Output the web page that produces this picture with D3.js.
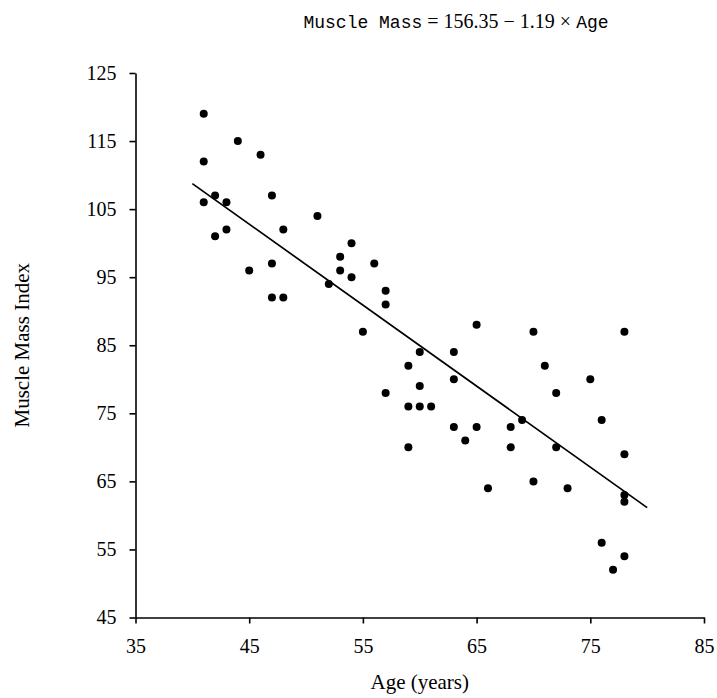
<!DOCTYPE html>
<html>
<head>
<meta charset="utf-8">
<script src="https://cdn.jsdelivr.net/npm/d3@7"></script>
<style>
  html, body { margin: 0; padding: 0; background: #fff; }
  svg { display: block; }
</style>
</head>
<body>
<script>
// ---- data ----
const ages = [41,44,46,41,42,47,41,43,51,42,43,48,54,53,56,53,54,52,57,57,45,47,47,48,55,65,60,63,59,60,63,57,70,78,71,75,72,59,60,61,69,76,63,65,68,64,59,68,72,78,66,70,73,78,78,76,78,77];
const muscleMass = [119,115,113,112,107,107,106,106,104,101,102,102,100,98,97,96,95,94,93,91,96,97,92,92,87,88,84,84,82,79,80,78,87,87,82,80,78,76,76,76,74,74,73,73,73,71,70,70,70,69,64,65,64,63,62,56,54,52];
const xTicks = [35,45,55,65,75,85];
const yTicks = [45,55,65,75,85,95,105,115,125];
const intercept = 156.35;
const slope = -1.19;
const fitRange = [40, 80];

const W = 717, H = 698;
const svg = d3.select("body").append("svg").attr("width", W).attr("height", H);

const x = d3.scaleLinear().domain([35, 85]).range([135.5, 704]);
const y = d3.scaleLinear().domain([45, 125]).range([617.5, 73]);

const serif = "'Liberation Serif', 'Times New Roman', serif";
const mono = "'Liberation Mono', 'DejaVu Sans Mono', monospace";

// axes
const xAxis = d3.axisBottom(x).tickValues(xTicks).tickSize(6).tickPadding(15).tickSizeOuter(0);
const yAxis = d3.axisLeft(y).tickValues(yTicks).tickSize(6).tickPadding(13).tickSizeOuter(0);

const gx = svg.append("g").attr("transform", `translate(0,${y(45)})`).call(xAxis);
const gy = svg.append("g").attr("transform", `translate(${x(35)},0)`).call(yAxis);
[gx, gy].forEach(g => {
  g.select(".domain").attr("stroke", "#000").attr("stroke-width", 1.6);
  g.selectAll(".tick line").attr("stroke", "#000").attr("stroke-width", 1.6);
  g.selectAll(".tick text").attr("fill", "#000").style("font-family", serif).style("font-size", "20px");
});

// points
svg.append("g").selectAll("circle")
  .data(ages.map((a, i) => [a, muscleMass[i]]))
  .join("circle")
  .attr("cx", d => x(d[0]))
  .attr("cy", d => y(d[1]))
  .attr("r", 4)
  .attr("fill", "#000");

// regression line
svg.append("line")
  .attr("x1", x(fitRange[0])).attr("y1", y(intercept + slope * fitRange[0]))
  .attr("x2", x(fitRange[1])).attr("y2", y(intercept + slope * fitRange[1]))
  .attr("stroke", "#000").attr("stroke-width", 1.7);

// title
const title = svg.append("text")
  .attr("x", 456).attr("y", 28)
  .attr("text-anchor", "middle")
  .style("font-size", "18px");
title.append("tspan").style("font-family", mono).text("Muscle Mass");
title.append("tspan").style("font-family", serif).style("font-size", "20px").text(" = 156.35 \u2212 1.19 \u00D7 ");
title.append("tspan").style("font-family", mono).text("Age");

// axis labels
svg.append("text")
  .attr("x", x(60)).attr("y", 689)
  .attr("text-anchor", "middle")
  .style("font-family", serif).style("font-size", "21px")
  .text("Age (years)");

svg.append("text")
  .attr("transform", `translate(29,${(y(45) + y(125)) / 2}) rotate(-90)`)
  .attr("text-anchor", "middle")
  .style("font-family", serif).style("font-size", "21px")
  .text("Muscle Mass Index");
</script>
</body>
</html>
